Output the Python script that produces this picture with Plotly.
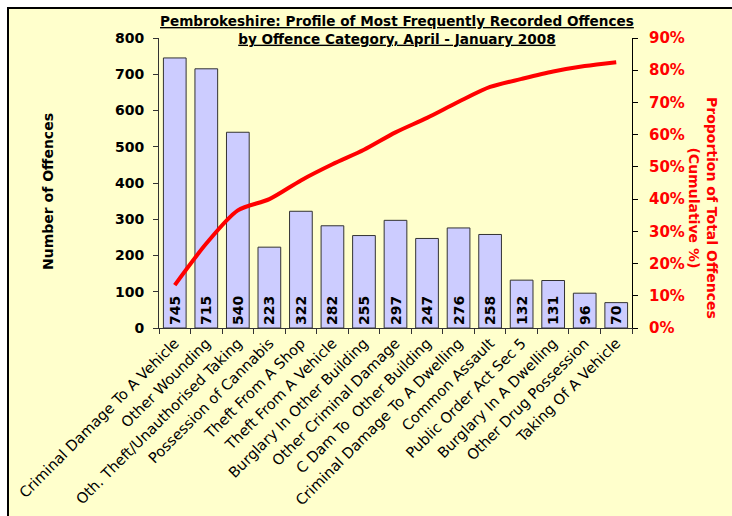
import plotly.graph_objects as go

categories = [
    "Criminal Damage To A Vehicle", "Other Wounding", "Oth. Theft/Unauthorised Taking",
    "Possession of Cannabis", "Theft From A Shop", "Theft From A Vehicle",
    "Burglary In Other Building", "Other Criminal Damage", "C Dam To  Other Building",
    "Criminal Damage To A Dwelling", "Common Assault", "Public Order Act Sec 5",
    "Burglary In A Dwelling", "Other Drug Possession", "Taking Of A Vehicle",
]
offences = [745, 715, 540, 223, 322, 282, 255, 297, 247, 276, 258, 132, 131, 96, 70]
cumulative_pct = [0.133, 0.262, 0.365, 0.40, 0.458, 0.508, 0.553, 0.607, 0.652,
                  0.702, 0.748, 0.773, 0.796, 0.813, 0.825]
left_ticks = [0, 100, 200, 300, 400, 500, 600, 700, 800]
right_ticks = [0, 0.1, 0.2, 0.3, 0.4, 0.5, 0.6, 0.7, 0.8, 0.9]

FONT = "DejaVu Sans"
BG = "#FFFFCC"

fig = go.Figure()
fig.add_trace(go.Bar(
    x=categories, y=offences,
    marker=dict(color="#CCCCFF", line=dict(color="#333333", width=1)),
    text=[str(v) for v in offences],
    textposition="inside", insidetextanchor="start", textangle=-90,
    textfont=dict(family=FONT, size=14, color="black", weight="bold"),
    cliponaxis=False, hoverinfo="skip",
))
fig.add_trace(go.Scatter(
    x=categories, y=cumulative_pct, yaxis="y2", mode="lines",
    line=dict(color="#FF0000", width=4, shape="spline", smoothing=0.8),
    hoverinfo="skip",
))

W, H = 732, 516
L, R, T, B = 159, 100, 38, 188
pw, ph = W - L - R, H - T - B


def px(xp):
    return (xp - L) / pw


def py(yp):
    return (H - B - yp) / ph


fig.update_layout(
    width=W, height=H,
    margin=dict(l=L, r=R, t=T, b=B, autoexpand=False),
    paper_bgcolor="white", plot_bgcolor="rgba(0,0,0,0)",
    showlegend=False, bargap=0.28,
    font=dict(family=FONT, color="black"),
    uniformtext=dict(minsize=14, mode="show"),
    xaxis=dict(
        tickangle=-45, tickfont=dict(family=FONT, size=14.6, color="black"),
        showline=True, linecolor="#333333", linewidth=1, automargin=False,
        ticks="outside", ticklen=5, tickcolor="#333333", tickson="boundaries",
        showgrid=False,
    ),
    yaxis=dict(
        range=[0, 800], tickvals=left_ticks, automargin=False,
        tickfont=dict(family=FONT, size=14, color="black", weight="bold"),
        showline=True, linecolor="#333333", linewidth=1,
        ticks="outside", ticklen=5, tickcolor="#333333", ticklabelstandoff=6,
        showgrid=False, zeroline=False,
    ),
    yaxis2=dict(
        overlaying="y", side="right", range=[0, 0.9], tickvals=right_ticks,
        tickformat=".0%", automargin=False,
        tickfont=dict(family=FONT, size=15, color="#FF0000", weight="bold"),
        showline=True, linecolor="black", linewidth=1,
        ticks="outside", ticklen=5, tickcolor="black", ticklabelstandoff=8,
        showgrid=False, zeroline=False,
    ),
    shapes=[dict(
        type="rect", xref="paper", yref="paper", layer="below",
        x0=px(8), x1=px(760), y0=py(540), y1=py(8),
        fillcolor=BG, line=dict(color="black", width=2),
    )],
    annotations=[
        dict(
            text="<u><b>Pembrokeshire: Profile of Most Frequently Recorded Offences</b></u><br>"
                 "<u><b>by Offence Category, April - January 2008</b></u>",
            xref="paper", yref="paper", x=px(397), y=py(11),
            xanchor="center", yanchor="top", showarrow=False,
            font=dict(family=FONT, size=13.6, color="black"),
        ),
        dict(
            text="<b>Number of Offences</b>",
            xref="paper", yref="paper", x=px(48), y=py(192),
            xanchor="center", yanchor="middle", textangle=-90, showarrow=False,
            font=dict(family=FONT, size=14, color="black"),
        ),
        dict(
            text="<b>Proportion of Total Offences</b><br><b>(Cumulative %)</b>",
            xref="paper", yref="paper", x=px(703), y=py(208),
            xanchor="center", yanchor="middle", textangle=90, showarrow=False,
            font=dict(family=FONT, size=14, color="#FF0000"),
        ),
    ],
)

fig.write_html(
    "out.html",
    config={"displayModeBar": False},
    post_script="document.body.style.margin='0';document.body.style.overflow='hidden';",
)
